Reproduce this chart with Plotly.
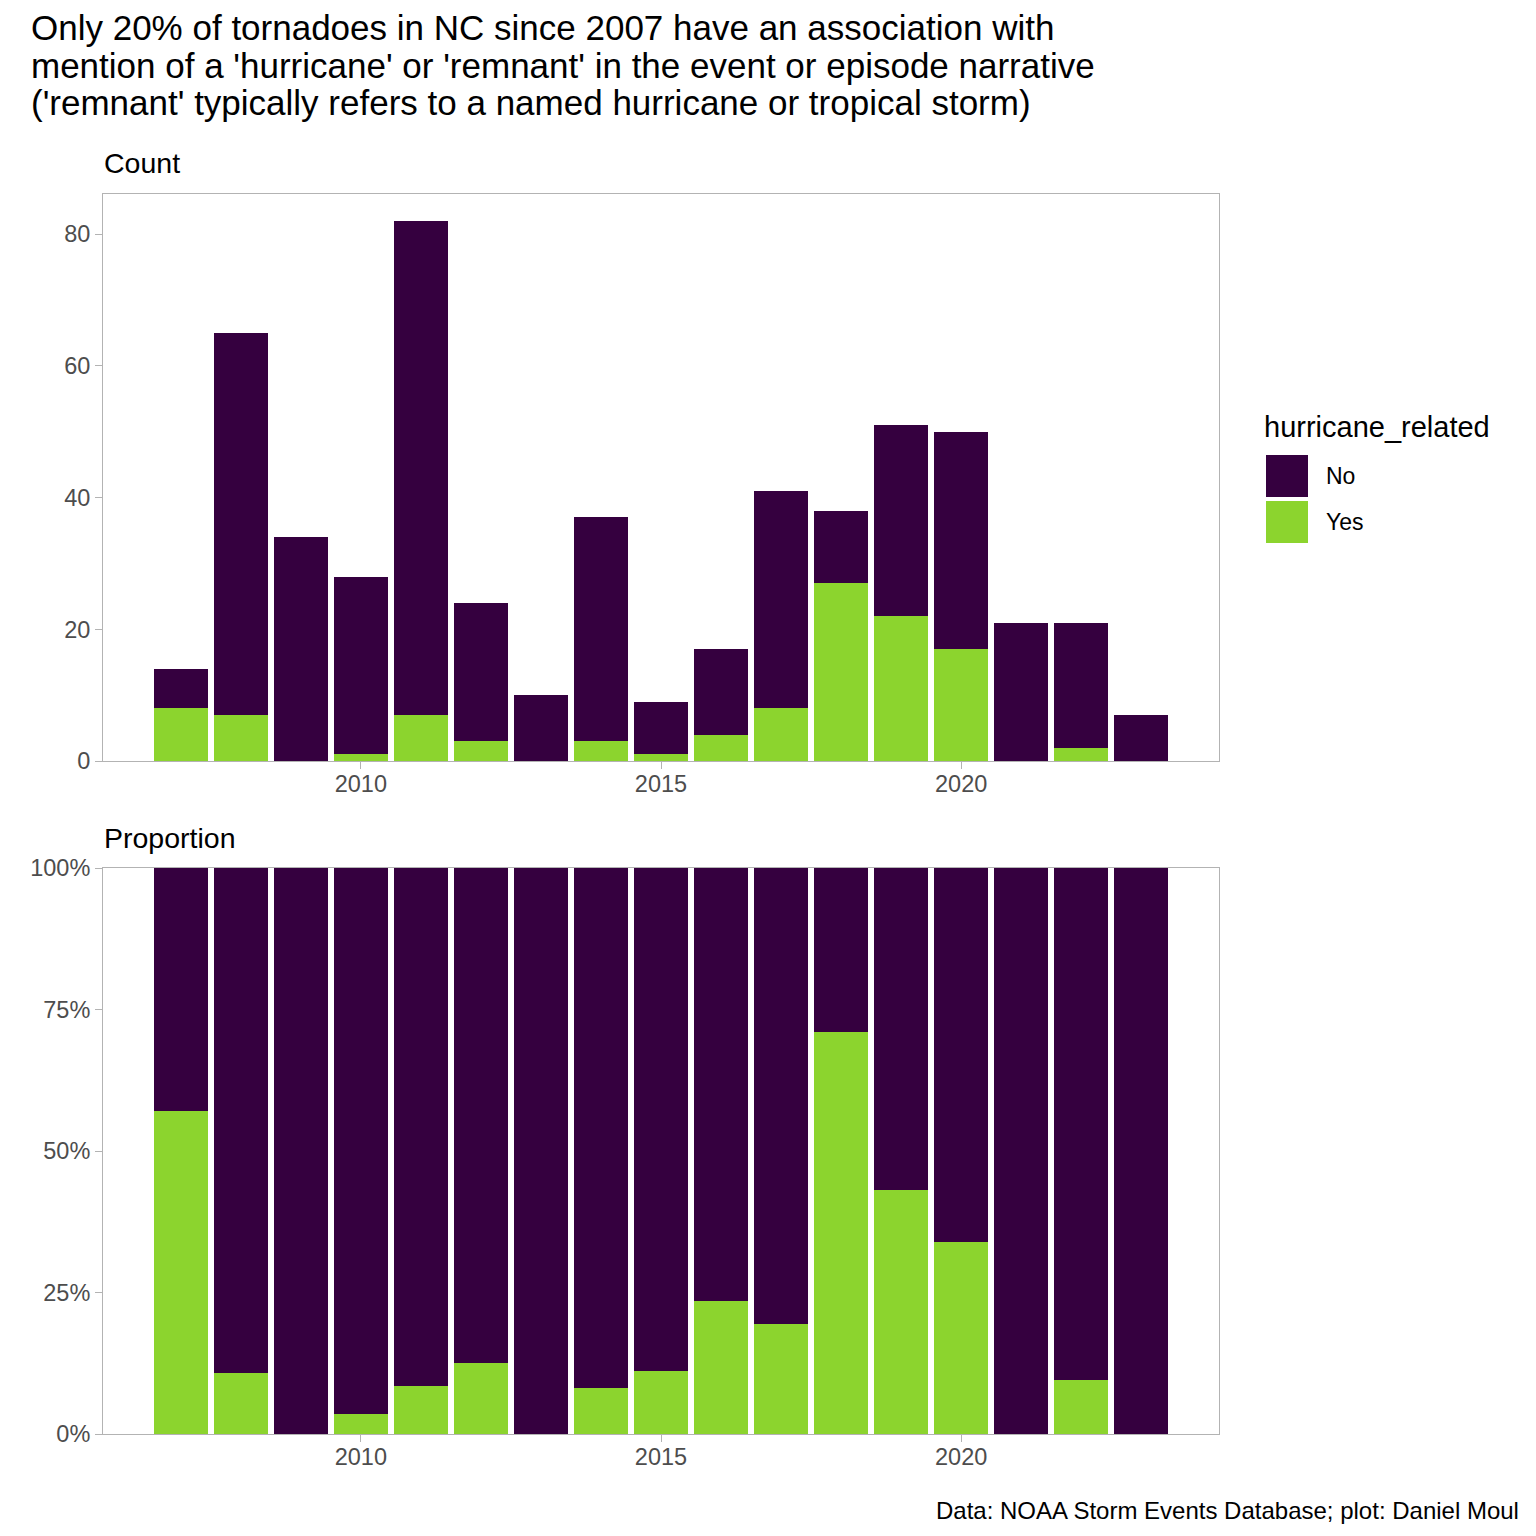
import plotly.graph_objects as go

years = list(range(2007, 2024))
total_count = [14, 65, 34, 28, 82, 24, 10, 37, 9, 17, 41, 38, 51, 50, 21, 21, 7]
yes_count = [8, 7, 0, 1, 7, 3, 0, 3, 1, 4, 8, 27, 22, 17, 0, 2, 0]
no_count = [t - y for t, y in zip(total_count, yes_count)]
yes_prop = [y / t for y, t in zip(yes_count, total_count)]
no_prop = [n / t for n, t in zip(no_count, total_count)]

categories = ["No", "Yes"]
colors = {"No": "#35003F", "Yes": "#8CD42E"}

title_lines = ["Only 20% of tornadoes in NC since 2007 have an association with",
               "mention of a 'hurricane' or 'remnant' in the event or episode narrative",
               "('remnant' typically refers to a named hurricane or tropical storm)"]
caption = "Data: NOAA Storm Events Database; plot: Daniel Moul"

W = H = 1536
FONT = "Liberation Sans, Arial, sans-serif"

def px_x(p):
    return p / W

def px_y(p):
    return 1 - p / H

fig = go.Figure()
# Count panel
fig.add_trace(go.Bar(x=years, y=yes_count, marker_color=colors["Yes"], marker_line_width=0,
                     width=0.9, name="Yes", showlegend=False, xaxis="x", yaxis="y"))
fig.add_trace(go.Bar(x=years, y=no_count, marker_color=colors["No"], marker_line_width=0,
                     width=0.9, name="No", showlegend=False, xaxis="x", yaxis="y"))
# Proportion panel
fig.add_trace(go.Bar(x=years, y=yes_prop, marker_color=colors["Yes"], marker_line_width=0,
                     width=0.9, name="Yes", showlegend=False, xaxis="x2", yaxis="y2"))
fig.add_trace(go.Bar(x=years, y=no_prop, marker_color=colors["No"], marker_line_width=0,
                     width=0.9, name="No", showlegend=False, xaxis="x2", yaxis="y2"))

axis_common = dict(showgrid=False, zeroline=False, showline=True, mirror=True,
                   linecolor="#b3b3b3", linewidth=1, ticks="outside", ticklen=7,
                   tickcolor="#b3b3b3", tickwidth=1, automargin=False,
                   tickfont=dict(family=FONT, size=23.5, color="#4d4d4d"))
xr = [2005.705, 2024.295]
fig.update_layout(
    width=W, height=H, plot_bgcolor="white", paper_bgcolor="white",
    margin=dict(l=0, r=0, t=0, b=0, autoexpand=False), barmode="stack", showlegend=False,
    xaxis=dict(domain=[px_x(103), px_x(1219)], anchor="y", range=xr,
               tickvals=[2010, 2015, 2020], ticklabelstandoff=-5, **axis_common),
    yaxis=dict(domain=[px_y(761), px_y(194)], anchor="x", range=[0, 86.1],
               tickvals=[0, 20, 40, 60, 80], **axis_common),
    xaxis2=dict(domain=[px_x(103), px_x(1219)], anchor="y2", range=xr,
                tickvals=[2010, 2015, 2020], ticklabelstandoff=-5, **axis_common),
    yaxis2=dict(domain=[px_y(1434), px_y(868)], anchor="x2", range=[0, 1],
                tickvals=[0, 0.25, 0.5, 0.75, 1], tickformat=".0%", **axis_common),
)

ann = []
for i, line in enumerate(title_lines):
    ann.append(dict(text=line, x=px_x(29), y=px_y(28 + 37 * i), xanchor="left", yanchor="middle",
                    font=dict(family=FONT, size=35, color="black")))
ann += [
    dict(text="Count", x=px_x(102), y=px_y(163), xanchor="left", yanchor="middle",
         font=dict(family=FONT, size=28.5, color="black")),
    dict(text="Proportion", x=px_x(102), y=px_y(838), xanchor="left", yanchor="middle",
         font=dict(family=FONT, size=28.5, color="black")),
    dict(text=caption, x=px_x(1521), y=px_y(1510), xanchor="right", yanchor="middle",
         font=dict(family=FONT, size=24, color="black")),
    dict(text="hurricane_related", x=px_x(1262), y=px_y(427), xanchor="left", yanchor="middle",
         font=dict(family=FONT, size=29, color="black")),
]
shapes = []
for i, cat in enumerate(categories):
    top = 455 + i * 46
    shapes.append(dict(type="rect", xref="paper", yref="paper",
                       x0=px_x(1266), x1=px_x(1308), y0=px_y(top + 42), y1=px_y(top),
                       fillcolor=colors[cat], line=dict(width=0)))
    ann.append(dict(text=cat, x=px_x(1324), y=px_y(top + 21), xanchor="left", yanchor="middle",
                    font=dict(family=FONT, size=23, color="black")))
for a in ann:
    a.update(xref="paper", yref="paper", showarrow=False)
fig.update_layout(annotations=ann, shapes=shapes)

fig.write_html("out.html", config={"displayModeBar": False},
               post_script="document.body.style.margin='0';document.body.style.padding='0';")
